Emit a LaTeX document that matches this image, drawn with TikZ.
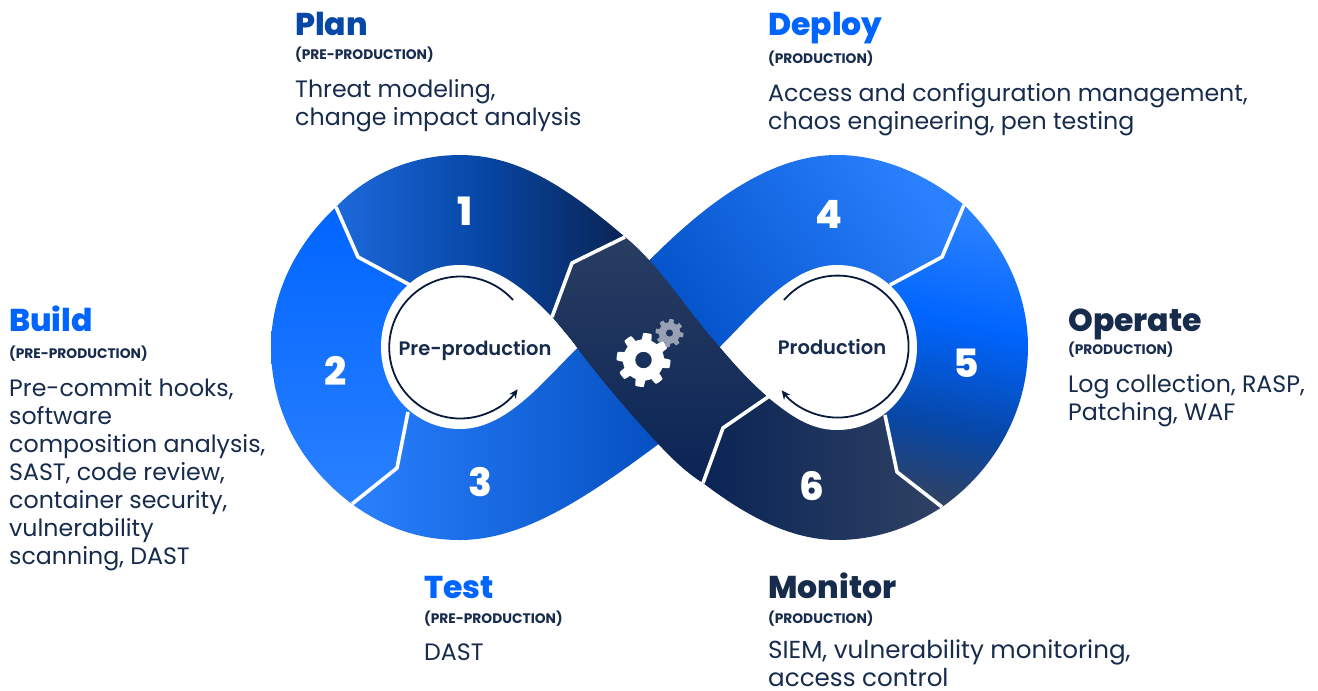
\documentclass[tikz,border=0pt]{standalone}
\usepackage{fontspec}
\usepackage{xcolor}
\usetikzlibrary{calc,arrows.meta}
\setmainfont{Poppins}
\newfontfamily\heavyfont{Poppins ExtraBold}
\newfontfamily\semifont{Poppins SemiBold}
\definecolor{navy}{HTML}{172B4D}
\definecolor{inkdark}{HTML}{0A1A3C}
\definecolor{azure}{HTML}{0065FF}
\definecolor{midblue}{HTML}{0747A6}
\definecolor{skyblue}{HTML}{2A80FF}
\definecolor{deepblue}{HTML}{0A2455}
\definecolor{slate}{HTML}{2F4264}
\definecolor{cogrey}{HTML}{98A1B3}
\pgfdeclareverticalshading{fivefade}{100bp}{color(0bp)=(slate); color(25bp)=(slate);
  color(38bp)=(midblue); color(57bp)=(azure); color(75bp)=(skyblue); color(100bp)=(skyblue)}
\tikzset{
  titlelab/.style={anchor=base west, inner sep=0pt, font=\fontsize{31.5}{32}\selectfont\heavyfont},
  sublab/.style={anchor=base west, inner sep=0pt, text=navy, font=\fontsize{13.8}{14}\selectfont\bfseries},
  bodylab/.style={anchor=north west, inner sep=0pt, align=left, text=navy, font=\fontsize{23.7}{28}\selectfont},
  numlab/.style={text=white, inner sep=0pt, font=\fontsize{39}{39}\selectfont\heavyfont},
  midlab/.style={text=navy, inner sep=0pt, font=\fontsize{19.5}{20}\selectfont\semifont},
  divider/.style={draw=white, line width=3.6pt, line join=round},
  looparrow/.style={draw=inkdark, line width=1.8pt, -{Stealth[length=9pt,width=8pt]}},
}
% one toothed wheel with a hole: centre, hole radius, outer radius, colour
\newcommand{\cogwheel}[5]{
  \fill[#5, even odd rule] plot[samples=241, domain=0:360, variable=\t]
    ({#1+(#4*0.76+#4*0.24*min(1,max(0,0.5+1.6*sin(8*\t+20))))*cos(\t)},
     {#2+(#4*0.76+#4*0.24*min(1,max(0,0.5+1.6*sin(8*\t+20))))*sin(\t)}) -- cycle
    (#1,#2) circle[radius=#3*1pt];
}
\begin{document}
\begin{tikzpicture}[x=1pt,y=-1pt]
\useasboundingbox (0,0) rectangle (1318,691);

% left lobe, the teardrop hides the inner ends
\shade[left color=skyblue, middle color=skyblue!88!midblue, right color=midblue!70!azure]
  (352,504) .. controls (385,528) and (420,540) .. (460,540)
  .. controls (525,540) and (590,495) .. (660,443) -- (577,348) -- (460,347)
  -- (408,412) -- (397,468) -- cycle;
\shade[top color=azure, bottom color=skyblue]
  (336,207) .. controls (295,245) and (271,295) .. (271,347)
  .. controls (271,410) and (300,465) .. (352,504) -- (397,468) -- (408,412)
  -- (460,347) -- (410,285) -- (358,257) -- cycle;
\shade[left color=skyblue!60!midblue, right color=deepblue, middle color=midblue]
  (336,207) .. controls (370,172) and (415,155) .. (460,155)
  .. controls (520,155) and (570,190) .. (625,237) -- (572,263) -- (552,317)
  -- (460,347) -- (410,285) -- (358,257) -- cycle;

% right lobe
\shade[top color=midblue!60!azure, middle color=skyblue!92!midblue, bottom color=skyblue, shading angle=125]
  (640,270) .. controls (707,200) and (772,155) .. (837,155)
  .. controls (880,155) and (925,173) .. (964,205) -- (942,257) -- (890,285)
  -- (838,347) -- (720,347) -- cycle;
\shade[shading=fivefade, shading angle=-12]
  (964,205) .. controls (1005,245) and (1028,295) .. (1028,347)
  .. controls (1028,410) and (995,470) .. (942,507) -- (897,472) -- (885,415)
  -- (838,347) -- (890,285) -- (942,257) -- cycle;
\shade[left color=deepblue, right color=slate]
  (942,507) .. controls (910,528) and (875,540) .. (837,540)
  .. controls (790,540) and (745,515) .. (703,483) -- (723,428) -- (768,397)
  -- (838,347) -- (885,415) -- (897,472) -- cycle;

% band through the middle
\shade[top color=slate!85!deepblue, middle color=deepblue!92!slate, bottom color=deepblue]
  (625,237) .. controls (660,265) and (690,315) .. (720,347)
  .. controls (735,365) and (750,382) .. (768,397) -- (723,428) -- (703,483)
  .. controls (685,472) and (668,455) .. (650,435)
  .. controls (625,408) and (600,378) .. (577,348)
  .. controls (570,338) and (560,327) .. (552,317) -- (572,263) -- cycle;

% white cuts between the parts
\draw[divider] (336,207) -- (358,257) -- (410,285);
\draw[divider] (352,504) -- (397,468) -- (408,412);
\draw[divider] (964,205) -- (942,257) -- (890,285);
\draw[divider] (942,507) -- (897,472) -- (885,415);
\draw[divider] (625,237) -- (572,263) -- (552,317);
\draw[divider] (768,397) -- (723,428) -- (703,483);

% teardrops
\fill[white] (577,348) .. controls (570,338) and (560,327) .. (552,317)
  .. controls (530,295) and (500,265) .. (460,265)
  .. controls (415,265) and (381,302) .. (381,347)
  .. controls (381,392) and (415,429) .. (460,429)
  .. controls (505,429) and (540,385) .. (577,348) -- cycle;
\fill[white] (720,347) .. controls (757,310) and (792,265) .. (837,265)
  .. controls (882,265) and (917,302) .. (917,347)
  .. controls (917,392) and (882,430) .. (837,430)
  .. controls (810,430) and (790,415) .. (770,399)
  .. controls (752,382) and (735,365) .. (720,347) -- cycle;

% loop arrows
\draw[looparrow] (513,300) arc[start angle=42, end angle=324, radius=71pt];
\draw[looparrow] (784,300) arc[start angle=139, end angle=-142, radius=71pt];

\cogwheel{643.5}{360}{8.3}{27}{white}
\cogwheel{669.5}{333}{3.7}{14}{cogrey}

\node[midlab] (preprod) at (475,350) {Pre-production};
\node[midlab] (prod) at (832,347) {Production};

\node[numlab] (n1) at (465,211) {1};
\node[numlab] (n2) at (336,371) {2};
\node[numlab] (n3) at (480,482) {3};
\node[numlab] (n4) at (829,214) {4};
\node[numlab] (n5) at (966,363) {5};
\node[numlab] (n6) at (812,486) {6};

% Plan
\node[titlelab, text=midblue] (plan) at (295,35) {Plan};
\node[sublab] (plansub) at (295,59) {(PRE-PRODUCTION)};
\node[bodylab] (planbody) at (295,79) {Threat modeling,\\change impact analysis};
% Deploy
\node[titlelab, text=azure] (deploy) at (768,35) {Deploy};
\node[sublab] (deploysub) at (768,63) {(PRODUCTION)};
\node[bodylab] (deploybody) at (768,83) {Access and configuration management,\\chaos engineering, pen testing};
% Build
\node[titlelab, text=azure] (build) at (9,331) {Build};
\node[sublab] (buildsub) at (9,358) {(PRE-PRODUCTION)};
\node[bodylab] (buildbody) at (9,378) {Pre-commit hooks,\\software\\composition analysis,\\SAST, code review,\\container security,\\vulnerability\\scanning, DAST};
% Operate
\node[titlelab, text=navy] (operate) at (1068,331) {Operate};
\node[sublab] (operatesub) at (1068,354) {(PRODUCTION)};
\node[bodylab] (operatebody) at (1068,374) {Log collection, RASP,\\Patching, WAF};
% Test
\node[titlelab, text=azure] (test) at (424,598) {Test};
\node[sublab] (testsub) at (424,623) {(PRE-PRODUCTION)};
\node[bodylab] (testbody) at (424,644) {DAST};
% Monitor
\node[titlelab, text=navy] (monitor) at (768,598) {Monitor};
\node[sublab] (monitorsub) at (768,623) {(PRODUCTION)};
\node[bodylab, font=\fontsize{24.6}{28}\selectfont] (monitorbody) at (768,640) {SIEM, vulnerability monitoring,\\access control};
\end{tikzpicture}
\end{document}
